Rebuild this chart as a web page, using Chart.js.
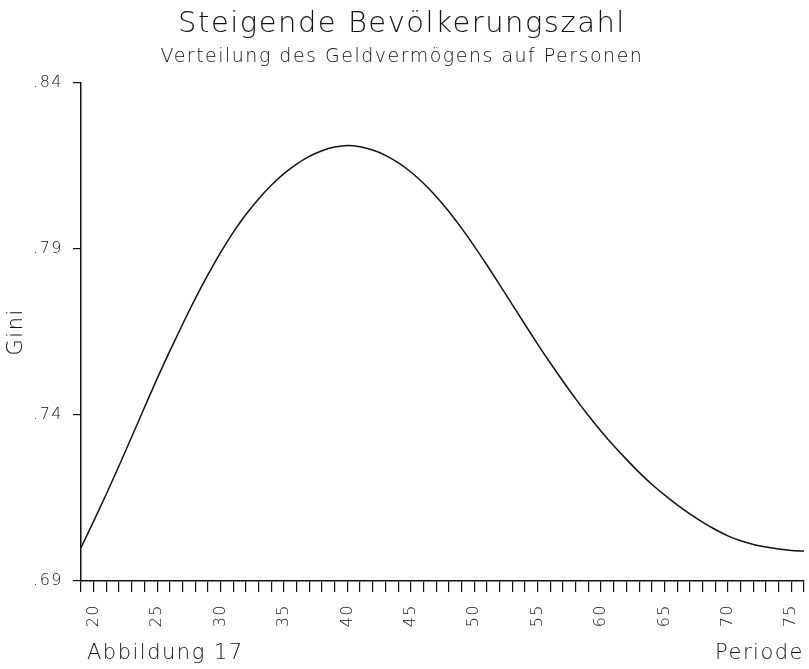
<!DOCTYPE html>
<html>
<head>
<meta charset="utf-8">
<script src="https://cdn.jsdelivr.net/npm/chart.js@4.4.0/dist/chart.umd.min.js"></script>
<style>
  html, body { margin: 0; padding: 0; background: #fff; }
  #wrap { width: 809px; height: 669px; }
</style>
</head>
<body>
<div id="wrap"><canvas id="c" width="809" height="669"></canvas></div>
<script>
// Data
const periods = [19,20,21,22,23,24,25,26,27,28,29,30,31,32,33,34,35,36,37,38,39,40,41,42,43,44,45,46,47,48,49,50,51,52,53,54,55,56,57,58,59,60,61,62,63,64,65,66,67,68,69,70,71,72,73,74,75,76];
const gini = [0.7000,0.7080,0.7162,0.7247,0.7334,0.7422,0.7509,0.7592,0.7672,0.7749,0.7821,0.7888,0.7949,0.8003,0.8050,0.8091,0.8126,0.8155,0.8178,0.8195,0.8206,0.8211,0.8207,0.8197,0.8181,0.8159,0.8131,0.8097,0.8057,0.8012,0.7962,0.7908,0.7851,0.7792,0.7732,0.7672,0.7613,0.7556,0.7501,0.7448,0.7398,0.7351,0.7307,0.7266,0.7227,0.7191,0.7159,0.7129,0.7102,0.7077,0.7055,0.7036,0.7021,0.7010,0.7002,0.6996,0.6992,0.6990];
const yTicks = [0.69, 0.74, 0.79, 0.84];
const xLabelStep = 5;

const FONT = "'DejaVu Sans', 'Liberation Sans', sans-serif";
const SPACING = '1.5px';
const X_TITLE_PAD_BOTTOM = 3;
const X_TITLE_SIZE = 21;

const spacingPlugin = {
  id: 'spacing',
  beforeLayout(chart) { chart.ctx.letterSpacing = SPACING; },
  beforeDraw(chart) { chart.ctx.letterSpacing = SPACING; }
};

const footerPlugin = {
  id: 'footerText',
  afterDraw(chart) {
    const ctx = chart.ctx;
    const xs = chart.scales.x;
    ctx.save();
    ctx.letterSpacing = SPACING;
    ctx.font = "200 " + X_TITLE_SIZE + "px " + FONT;
    ctx.fillStyle = '#111';
    ctx.textAlign = 'left';
    ctx.textBaseline = 'middle';
    const y = xs.bottom - X_TITLE_PAD_BOTTOM - (X_TITLE_SIZE * 1.2) / 2;
    ctx.fillText('Abbildung 17', chart.chartArea.left + 6, y);
    ctx.restore();
  }
};

new Chart(document.getElementById('c'), {
  type: 'line',
  data: {
    datasets: [{
      data: periods.map((p, i) => ({ x: p, y: gini[i] })),
      borderColor: '#111',
      borderWidth: 1.5,
      pointRadius: 0,
      cubicInterpolationMode: 'monotone',
      fill: false
    }]
  },
  options: {
    responsive: false,
    animation: false,
    devicePixelRatio: 1,
    layout: { padding: { left: 0, right: 5, top: 5, bottom: 0 } },
    plugins: {
      legend: { display: false },
      tooltip: { enabled: false },
      title: {
        display: true,
        text: 'Steigende Bevölkerungszahl',
        color: '#111',
        font: { family: FONT, size: 29, weight: '200' },
        padding: { top: 2, bottom: 4 }
      },
      subtitle: {
        display: true,
        text: 'Verteilung des Geldvermögens auf Personen',
        color: '#111',
        font: { family: FONT, size: 19, weight: '200' },
        padding: { top: 0, bottom: 14 }
      }
    },
    scales: {
      x: {
        type: 'linear',
        min: 19,
        max: 76,
        afterFit: (s) => { s.paddingRight = 0; s.paddingLeft = 0; s.height = 88; },
        border: { display: true, color: '#111', width: 1.5 },
        grid: { drawOnChartArea: false, drawTicks: true, tickLength: 11, color: '#111', lineWidth: 1.2 },
        ticks: {
          stepSize: 1,
          autoSkip: false,
          maxRotation: 90,
          minRotation: 90,
          color: '#111',
          padding: 12,
          font: { family: FONT, size: 16, weight: '200' },
          callback: (v) => (v % xLabelStep === 0 ? String(v) : '')
        },
        title: {
          display: true,
          text: 'Periode',
          align: 'end',
          color: '#111',
          font: { family: FONT, size: X_TITLE_SIZE, weight: '200' },
          padding: { top: 13, bottom: X_TITLE_PAD_BOTTOM }
        }
      },
      y: {
        type: 'linear',
        min: 0.69,
        max: 0.84,
        afterBuildTicks: (axis) => { axis.ticks = yTicks.map(v => ({ value: v })); },
        afterFit: (s) => { s.width = 81; },
        border: { display: true, color: '#111', width: 1.5 },
        grid: { drawOnChartArea: false, drawTicks: true, tickLength: 8, color: '#111', lineWidth: 1.2 },
        ticks: {
          color: '#111',
          padding: 10,
          font: { family: FONT, size: 16, weight: '200' },
          callback: (v) => Number(v).toFixed(2).replace(/^0/, '')
        },
        title: {
          display: true,
          text: 'Gini',
          color: '#111',
          font: { family: FONT, size: 21, weight: '200' },
          padding: { top: 4, bottom: 4 }
        }
      }
    }
  },
  plugins: [spacingPlugin, footerPlugin]
});
</script>
</body>
</html>
